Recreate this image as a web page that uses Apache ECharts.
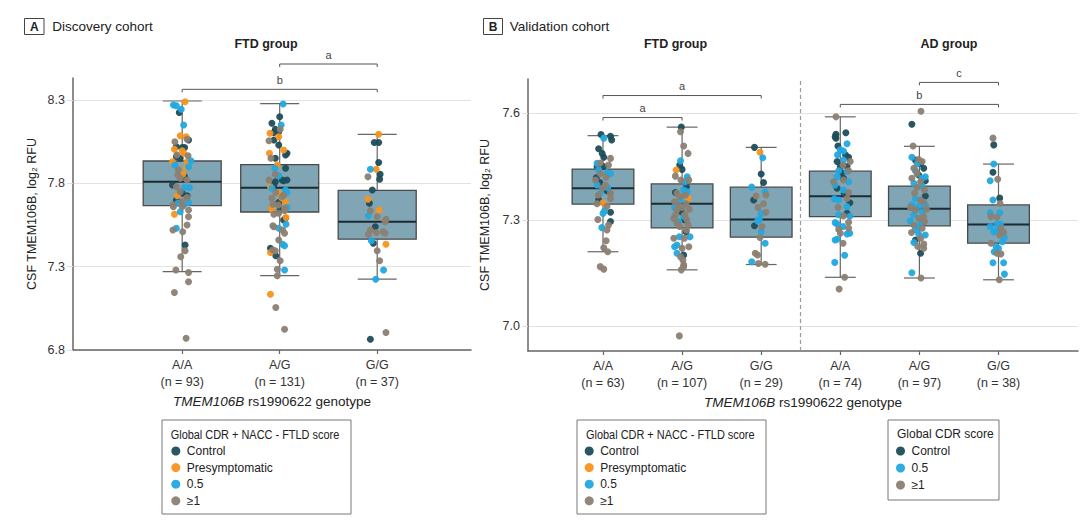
<!DOCTYPE html>
<html><head><meta charset="utf-8">
<script src="https://cdn.jsdelivr.net/npm/echarts@6/dist/echarts.min.js"></script>
<style>html,body{margin:0;padding:0;background:#fff}#c{width:1080px;height:520px}</style>
</head><body><div id="c"></div>
<script>
// ---------- DATA ----------
const classNames = ['Control', 'Presymptomatic', '0.5', '≥1'];
const catsA = ['A/A', 'A/G', 'G/G'];
const nA = [93, 131, 37];
const catsB = ['A/A', 'A/G', 'G/G', 'A/A', 'A/G', 'G/G'];
const nB = [63, 107, 29, 74, 97, 38];
const ticksA = [6.8, 7.3, 7.8, 8.3];
const ticksB = [7.0, 7.3, 7.6];
// box stats: [lower whisker, Q1, median, Q3, upper whisker]
const boxA = [[7.27, 7.666, 7.81, 7.934, 8.294], [7.246, 7.628, 7.774, 7.912, 8.278], [7.225, 7.465, 7.57, 7.758, 8.094]];
const boxB = [[7.21, 7.344, 7.389, 7.443, 7.537], [7.159, 7.277, 7.345, 7.401, 7.561], [7.174, 7.251, 7.301, 7.392, 7.504],
              [7.138, 7.309, 7.366, 7.437, 7.59], [7.136, 7.283, 7.331, 7.395, 7.507], [7.131, 7.234, 7.287, 7.342, 7.457]];
// significance brackets: [from category, to category, level, label]
const bracketsA = [[1, 3, 8.364, 'b'], [2, 3, 8.516, 'a']];
const bracketsB = [[1, 2, 7.588, 'a'], [1, 3, 7.650, 'a'], [4, 6, 7.625, 'b'], [5, 6, 7.687, 'c']];
// points: [jitter (category units), value, class index]
const ptsA_AA = [[.03,8.29,1],[-.09,8.27,2],[-.06,8.265,2],[-.01,8.245,2],[-.03,8.225,0],[.015,8.15,2],[-.02,8.085,1],[.04,8.08,1],[.05,8.065,3],[-.075,8.05,3],[.065,8.06,0],[0,8.015,0],[.025,8.015,0],[-.08,8.005,1],[-.06,8.02,0],[0,7.995,1],[.015,7.98,1],[-.055,7.97,3],[.06,7.965,3],[.09,7.935,2],[-.1,7.93,1],[.05,7.93,1],[-.06,7.96,0],[-.075,7.91,2],[.04,7.895,1],[-.04,7.88,3],[.025,7.84,0],[.05,7.82,3],[-.02,7.83,3],[-.1,7.79,0],[.025,7.775,2],[.075,7.775,2],[-.06,7.78,3],[.05,7.725,0],[-.05,7.725,1],[.065,7.685,2],[-.09,7.66,3],[0,7.66,3],[-.02,7.63,2],[-.08,7.615,1],[.065,7.6,3],[.05,7.55,3],[-.06,7.53,2],[-.095,7.52,3],[.005,7.51,3],[.03,7.43,0],[.03,7.395,3],[-.015,7.36,3],[-.065,7.28,3],[.065,7.265,3],[.065,7.21,3],[-.08,7.145,3],[.04,6.87,3],[-.095,7.67,3],[.065,7.64,3],[.015,7.67,2],[-.06,7.70,0],[0,7.69,3],[-.02,7.75,3],[.005,7.855,1],[-.045,7.85,3],[.065,7.9,2],[-.02,7.95,0],[0,7.74,0],[.05,7.715,3],[-.045,7.68,2]];
const ptsA_AG = [[.035,8.276,2],[0,8.2,0],[-.08,8.16,0],[.015,8.15,2],[-.045,8.125,0],[-.01,8.11,0],[-.1,8.1,1],[.005,8.125,3],[-.06,8.105,0],[-.01,8.08,1],[-.11,8.055,3],[-.06,8.06,0],[-.01,8.03,0],[.075,7.98,0],[.06,7.97,0],[.04,8.0,1],[-.105,7.98,1],[-.09,7.95,3],[-.045,7.95,0],[-.025,7.91,1],[-.05,7.89,2],[.06,7.89,0],[-.045,7.855,3],[-.01,7.845,2],[.025,7.82,0],[.075,7.82,0],[-.11,7.82,3],[-.095,7.78,1],[-.08,7.77,2],[-.06,7.79,0],[-.04,7.745,3],[-.01,7.74,1],[.04,7.73,3],[.06,7.76,2],[-.08,7.71,3],[.025,7.71,1],[-.01,7.685,0],[-.08,7.65,1],[.05,7.65,3],[.075,7.655,2],[-.01,7.62,3],[.06,7.59,0],[-.06,7.615,3],[-.06,7.54,3],[-.01,7.53,2],[.065,7.595,1],[-.07,7.545,3],[.065,7.555,2],[.03,7.52,3],[.05,7.50,3],[-.01,7.46,3],[-.095,7.41,0],[-.07,7.40,3],[.03,7.435,2],[.05,7.425,2],[-.045,7.395,3],[-.095,7.385,1],[-.04,7.365,0],[.005,7.335,3],[-.025,7.285,3],[.05,7.28,2],[-.025,7.245,3],[-.095,7.135,1],[-.04,7.055,3],[.05,6.925,3],[.075,7.745,2],[-.015,7.67,3],[-.07,7.675,3],[.005,7.64,0],[.05,7.635,3],[-.08,7.645,1],[.04,7.58,0],[.06,7.685,1],[.025,7.72,3],[-.045,7.81,0],[.04,7.815,0]];
const ptsA_GG = [[.015,8.095,1],[-.03,8.045,0],[.015,8.045,0],[.015,7.925,0],[-.07,7.885,2],[-.01,7.885,1],[-.095,7.84,3],[.03,7.855,0],[.025,7.825,0],[-.05,7.76,0],[-.095,7.705,1],[-.08,7.68,0],[-.07,7.635,3],[.02,7.64,1],[-.09,7.605,2],[0,7.60,3],[.09,7.585,3],[.08,7.57,3],[-.02,7.54,0],[-.07,7.52,3],[.06,7.51,3],[.08,7.50,3],[-.09,7.495,3],[-.01,7.505,3],[-.06,7.455,2],[-.04,7.44,0],[.09,7.435,1],[0,7.395,3],[.025,7.335,3],[.065,7.28,2],[-.015,7.225,2],[-.07,6.865,0],[.09,6.905,3]];
const ptsB_FTD_AA = [[-.025,7.54,0],[.095,7.535,0],[.11,7.525,0],[.01,7.53,2],[-.055,7.50,0],[-.01,7.487,0],[.095,7.473,3],[.01,7.476,0],[-.075,7.459,2],[.07,7.454,3],[-.035,7.46,3],[-.075,7.45,0],[.01,7.45,0],[-.055,7.44,2],[.05,7.433,2],[.095,7.43,2],[-.035,7.43,3],[-.095,7.412,3],[-.085,7.418,0],[-.075,7.398,2],[.03,7.398,3],[-.01,7.389,3],[.05,7.382,0],[-.035,7.375,2],[.095,7.375,3],[.095,7.36,3],[-.055,7.356,0],[0,7.348,1],[-.075,7.345,3],[.02,7.325,2],[.095,7.321,0],[-.065,7.301,3],[.095,7.295,0],[-.015,7.278,2],[.07,7.285,3],[.04,7.241,3],[.01,7.221,3],[.06,7.21,3],[-.035,7.168,3],[.01,7.161,3],[.05,7.338,3],[0,7.318,2],[.05,7.271,3],[.04,7.42,3],[-.04,7.405,0],[.06,7.39,2],[-.06,7.37,3]];
const ptsB_FTD_AG = [[-.01,7.561,0],[-.02,7.548,3],[.02,7.508,3],[.075,7.487,3],[-.02,7.466,2],[-.03,7.454,0],[-.075,7.44,1],[-.085,7.423,3],[0,7.442,0],[.065,7.421,2],[.04,7.407,2],[-.015,7.412,3],[.085,7.412,3],[.055,7.393,0],[.02,7.384,2],[.065,7.379,2],[-.065,7.375,3],[-.085,7.377,0],[.08,7.36,1],[-.02,7.356,2],[-.095,7.351,3],[0,7.335,3],[-.095,7.335,2],[-.065,7.328,3],[-.01,7.323,0],[.035,7.314,3],[-.105,7.304,3],[-.065,7.29,3],[-.05,7.295,2],[.03,7.30,0],[-.03,7.281,3],[.055,7.271,3],[-.035,7.252,2],[-.105,7.248,3],[.03,7.248,3],[-.065,7.229,2],[.085,7.224,3],[-.065,7.206,2],[.02,7.201,0],[0,7.22,3],[-.02,7.196,3],[.02,7.168,3],[-.035,6.973,3],[.01,7.187,3],[.02,7.173,3],[-.01,7.159,3],[.1,7.252,2],[-.095,7.224,2],[.05,7.266,0],[-.045,7.295,2],[.075,7.285,3],[-.04,7.34,3],[.05,7.345,3],[.02,7.31,2],[-.08,7.315,3],[.09,7.33,3],[.06,7.30,3],[-.03,7.365,3],[.04,7.37,3]];
const ptsB_FTD_GG = [[-.085,7.504,0],[-.015,7.49,1],[.02,7.475,2],[0,7.429,0],[.03,7.405,0],[-.12,7.392,2],[.05,7.379,2],[.06,7.37,3],[-.095,7.356,0],[-.065,7.367,3],[0,7.318,2],[.06,7.321,3],[-.025,7.301,2],[-.085,7.283,0],[-.045,7.297,2],[.01,7.281,3],[0,7.266,2],[-.015,7.25,3],[.05,7.234,2],[-.075,7.206,3],[-.045,7.201,3],[-.12,7.182,2],[-.035,7.177,3],[.05,7.175,3],[.03,7.345,3],[-.04,7.335,3]];
const ptsB_AD_AA = [[-.055,7.59,3],[-.055,7.541,0],[-.065,7.534,0],[-.055,7.53,0],[.07,7.545,0],[.085,7.514,2],[-.03,7.508,0],[0,7.497,2],[.04,7.494,2],[.065,7.483,0],[.105,7.476,0],[-.035,7.483,2],[.125,7.464,3],[-.04,7.464,0],[.04,7.468,2],[0,7.45,0],[.085,7.45,0],[.035,7.454,3],[-.02,7.438,2],[.085,7.436,2],[.02,7.433,0],[.105,7.438,3],[-.04,7.421,2],[.04,7.417,0],[-.085,7.407,3],[-.065,7.398,2],[.04,7.412,3],[.105,7.407,2],[-.04,7.389,0],[.04,7.384,2],[.05,7.375,0],[.105,7.377,3],[-.075,7.359,2],[-.02,7.356,2],[.085,7.36,3],[.12,7.348,0],[.085,7.337,2],[-.03,7.335,3],[-.02,7.314,2],[.04,7.311,3],[.085,7.318,0],[.12,7.31,2],[-.065,7.292,2],[-.04,7.288,2],[.105,7.293,3],[-.02,7.273,3],[.035,7.281,2],[.105,7.276,3],[.12,7.262,2],[.085,7.26,2],[0,7.262,3],[-.065,7.243,2],[-.04,7.245,2],[.035,7.234,3],[.055,7.20,2],[-.07,7.18,2],[.055,7.138,3],[-.015,7.105,3]];
const ptsB_AD_AG = [[.02,7.606,3],[-.095,7.569,0],[-.08,7.508,3],[-.095,7.476,2],[-.05,7.468,0],[-.01,7.47,3],[.015,7.459,0],[.035,7.464,3],[-.03,7.457,2],[-.07,7.445,3],[-.05,7.438,2],[.055,7.445,0],[-.01,7.426,0],[.075,7.421,2],[.035,7.417,2],[-.095,7.417,3],[.015,7.407,3],[.075,7.41,0],[-.07,7.403,2],[-.03,7.392,3],[.035,7.395,2],[.065,7.384,3],[.075,7.367,0],[-.05,7.36,2],[.015,7.356,3],[-.095,7.342,2],[-.01,7.339,2],[.075,7.342,2],[-.115,7.335,3],[-.05,7.328,3],[.035,7.323,2],[-.07,7.314,2],[.055,7.309,3],[-.01,7.304,3],[-.115,7.297,2],[.065,7.295,3],[-.07,7.285,3],[-.03,7.281,2],[.035,7.276,3],[-.1,7.264,3],[-.05,7.273,2],[-.01,7.26,2],[.075,7.257,2],[.015,7.248,3],[-.05,7.243,0],[-.07,7.236,2],[.055,7.232,3],[.055,7.22,3],[.015,7.206,0],[-.095,7.151,2],[.02,7.136,3],[-.03,7.43,3],[.05,7.35,3],[-.06,7.375,3],[.02,7.29,2],[.09,7.33,3],[-.02,7.225,3]];
const ptsB_AD_GG = [[-.07,7.53,3],[-.06,7.511,0],[-.06,7.457,2],[-.07,7.434,0],[-.105,7.41,2],[-.01,7.414,3],[.015,7.361,0],[-.07,7.356,2],[-.105,7.32,2],[.015,7.32,2],[-.095,7.309,3],[-.02,7.307,3],[-.105,7.281,2],[-.02,7.288,2],[.025,7.288,2],[.03,7.276,3],[-.03,7.269,2],[.045,7.266,2],[.065,7.264,3],[-.06,7.266,2],[.075,7.25,2],[.015,7.257,3],[.05,7.238,2],[-.095,7.234,3],[-.03,7.224,2],[0,7.22,2],[-.055,7.21,2],[-.02,7.206,3],[.03,7.204,3],[-.07,7.179,2],[.065,7.179,2],[.075,7.147,2],[.01,7.131,3],[.02,7.346,3]];

// ---------- STYLE / BUILD ----------
const FONT = "'Liberation Sans', Arial, sans-serif";
const classColors = ['#1e4d5a', '#f7931e', '#22a8e0', '#8b8072'];
const groupsA = [ptsA_AA, ptsA_AG, ptsA_GG];
const groupsB = [ptsB_FTD_AA, ptsB_FTD_AG, ptsB_FTD_GG, ptsB_AD_AA, ptsB_AD_AG, ptsB_AD_GG];

function byClass(groups) {
  return classNames.map((nm, c) => {
    const d = [];
    groups.forEach((pts, g) => pts.forEach(p => { if (p[2] === c) d.push([g + 1 + p[0], p[1]]); }));
    return d;
  });
}
function boxRenderer(bw, cw) {
  return function (params, api) {
    const x = api.value(0);
    const lo = api.coord([x, api.value(1)]), q1 = api.coord([x, api.value(2)]),
      md = api.coord([x, api.value(3)]), q3 = api.coord([x, api.value(4)]), hi = api.coord([x, api.value(5)]);
    const w = api.size([bw, 0])[0], c = api.size([cw, 0])[0];
    const wh = { stroke: '#666', lineWidth: 1.2 };
    return { type: 'group', children: [
      { type: 'line', shape: { x1: lo[0], y1: lo[1], x2: hi[0], y2: hi[1] }, style: wh },
      { type: 'line', shape: { x1: lo[0] - c / 2, y1: lo[1], x2: lo[0] + c / 2, y2: lo[1] }, style: wh },
      { type: 'line', shape: { x1: hi[0] - c / 2, y1: hi[1], x2: hi[0] + c / 2, y2: hi[1] }, style: wh },
      { type: 'rect', shape: { x: q3[0] - w / 2, y: q3[1], width: w, height: q1[1] - q3[1] }, style: { fill: '#80a5b4', stroke: '#4a4a4a', lineWidth: 1.3 } },
      { type: 'line', shape: { x1: md[0] - w / 2, y1: md[1], x2: md[0] + w / 2, y2: md[1] }, style: { stroke: '#1b2b31', lineWidth: 2 } }
    ] };
  };
}
function bracketRenderer(arr) {
  return function (params, api) {
    const b = arr[params.dataIndex];
    const p1 = api.coord([b[0], b[2]]), p2 = api.coord([b[1], b[2]]);
    return { type: 'group', children: [
      { type: 'polyline', shape: { points: [[p1[0], p1[1] + 3], [p1[0], p1[1]], [p2[0], p2[1]], [p2[0], p2[1] + 3]] }, style: { stroke: '#555', lineWidth: 1, fill: 'none' } },
      { type: 'text', style: { text: b[3], x: (p1[0] + p2[0]) / 2, y: p1[1] - 4, align: 'center', verticalAlign: 'bottom', fill: '#444', fontSize: 11, fontFamily: FONT } }
    ] };
  };
}
function xAxisCfg(gi, min, max, cats, ns) {
  const vals = cats.map((c, i) => i + 1);
  return {
    type: 'value', gridIndex: gi, min: min, max: max,
    axisLine: { show: true, onZero: false, lineStyle: { color: '#666', width: 1.5 } },
    axisTick: { show: true, customValues: vals, length: 4, lineStyle: { color: '#666', width: 1.2 } },
    axisLabel: { customValues: vals, formatter: v => { const i = Math.round(v) - 1; return cats[i] + '\n(n = ' + ns[i] + ')'; },
      fontSize: 12.5, lineHeight: 16.5, color: '#333', margin: 7, fontFamily: FONT },
    splitLine: { show: false },
    name: '{i|TMEM106B} rs1990622 genotype', nameLocation: 'middle', nameGap: 44,
    nameTextStyle: { fontSize: 13.5, color: '#222', fontFamily: FONT,
      rich: { i: { fontStyle: 'italic', fontSize: 13.5, color: '#222', fontFamily: FONT } } }
  };
}
function yAxisCfg(gi, min, max, ticks, gap) {
  return {
    type: 'value', gridIndex: gi, min: min, max: max,
    axisLine: { show: true, onZero: false, lineStyle: { color: '#666', width: 1.5 } },
    axisTick: { show: true, customValues: ticks, length: 6, lineStyle: { color: '#dedede', width: 1 } },
    axisLabel: { customValues: ticks, formatter: v => v.toFixed(1), fontSize: 12.5, color: '#333', margin: 8, fontFamily: FONT },
    splitLine: { show: true, lineStyle: { color: '#e2e2e2', width: 1.2 } },
    name: 'CSF TMEM106B, log₂ RFU', nameLocation: 'middle', nameGap: gap, nameRotate: 90,
    nameTextStyle: { fontSize: 12.5, color: '#222', fontFamily: FONT }
  };
}

const ptsAByClass = byClass(groupsA);
const ptsBByClass = byClass(groupsB);
const series = [
  { type: 'custom', xAxisIndex: 0, yAxisIndex: 0, z: 2, silent: true, renderItem: boxRenderer(0.8, 0.4),
    encode: { x: 0, y: [1, 2, 3, 4, 5] }, data: boxA.map((b, i) => [i + 1].concat(b)) },
  { type: 'custom', xAxisIndex: 1, yAxisIndex: 1, z: 2, silent: true, renderItem: boxRenderer(0.78, 0.39),
    encode: { x: 0, y: [1, 2, 3, 4, 5] }, data: boxB.map((b, i) => [i + 1].concat(b)) },
  { type: 'custom', xAxisIndex: 0, yAxisIndex: 0, z: 4, clip: false, silent: true, renderItem: bracketRenderer(bracketsA),
    encode: { x: [0, 1], y: 2 }, data: bracketsA.map(b => [b[0], b[1], b[2]]) },
  { type: 'custom', xAxisIndex: 1, yAxisIndex: 1, z: 4, clip: false, silent: true, renderItem: bracketRenderer(bracketsB),
    encode: { x: [0, 1], y: 2 }, data: bracketsB.map(b => [b[0], b[1], b[2]]) }
];
classNames.forEach((nm, c) => {
  series.push({ type: 'scatter', name: nm, xAxisIndex: 0, yAxisIndex: 0, z: 3, symbolSize: 7,
    itemStyle: { color: classColors[c], opacity: 0.95 }, data: ptsAByClass[c] });
});
classNames.forEach((nm, c) => {
  const s = { type: 'scatter', name: nm, xAxisIndex: 1, yAxisIndex: 1, z: 3, symbolSize: 7,
    itemStyle: { color: classColors[c], opacity: 0.95 }, data: ptsBByClass[c] };
  if (c === 0) s.markLine = { symbol: 'none', silent: true, label: { show: false },
    lineStyle: { type: [4, 3], color: '#999', width: 1.2 }, data: [{ xAxis: catsB.length / 2 + 0.5 }] };
  series.push(s);
});

function legendCfg(left, names, gap) {
  return { left: left, top: 443, orient: 'vertical', padding: 0, icon: 'circle', itemWidth: 12, itemHeight: 9,
    itemGap: gap, data: names, textStyle: { fontSize: 12, lineHeight: 16, color: '#222', fontFamily: FONT } };
}
function txt(x, y, s, opt, sx) {
  const el = { type: 'text', x: x, y: y, silent: true, style: Object.assign({ text: s, fill: '#222', fontSize: 12.5, fontFamily: FONT,
    align: 'left', verticalAlign: 'middle' }, opt || {}) };
  if (sx) el.scaleX = sx;
  return el;
}
function rect(x, y, w, h, stroke) {
  return { type: 'rect', silent: true, shape: { x: x, y: y, width: w, height: h }, style: { fill: 'none', stroke: stroke || '#777', lineWidth: 1 } };
}
const legTitle = { fontSize: 12.3 };

const option = {
  animation: false,
  backgroundColor: '#fff',
  grid: [
    { left: 73, top: 78, width: 398, height: 272 },
    { left: 528, top: 79, width: 550, height: 272 }
  ],
  xAxis: [xAxisCfg(0, -0.12, 3.962, catsA, nA), xAxisCfg(1, 0.052, 7.005, catsB, nB)],
  yAxis: [yAxisCfg(0, 6.8, 8.432, ticksA, 35), yAxisCfg(1, 6.9304, 7.6966, ticksB, 32)],
  legend: [
    legendCfg(171.3, classNames, 0.6),
    legendCfg(584.7, classNames, 0.6),
    legendCfg(896, ['Control', '0.5', '≥1'], 1)
  ],
  graphic: [
    rect(24.5, 18.5, 19.5, 16, '#444'),
    txt(34.25, 26.5, 'A', { align: 'center', fontWeight: 'bold', fontSize: 12 }),
    txt(52.3, 26, 'Discovery cohort', { fontSize: 13.5 }),
    rect(483.5, 18.5, 19, 16, '#444'),
    txt(493, 26.5, 'B', { align: 'center', fontWeight: 'bold', fontSize: 12 }),
    txt(509.8, 26, 'Validation cohort', { fontSize: 13.5 }),
    txt(266, 44, 'FTD group', { align: 'center', fontWeight: 'bold', fontSize: 12.5 }),
    txt(675.5, 44, 'FTD group', { align: 'center', fontWeight: 'bold', fontSize: 12.5 }),
    txt(949, 44, 'AD group', { align: 'center', fontWeight: 'bold', fontSize: 12.5 }),
    rect(162, 420, 189, 94),
    txt(170.7, 434, 'Global CDR + NACC - FTLD score', legTitle, 0.89),
    rect(577, 420, 189, 94),
    txt(586, 434, 'Global CDR + NACC - FTLD score', legTitle, 0.89),
    rect(888, 420, 111, 80),
    txt(897, 434, 'Global CDR score', { fontSize: 12 })
  ],
  series: series
};
const chart = echarts.init(document.getElementById('c'), null, { renderer: 'svg' });
chart.setOption(option);
</script></body></html>
